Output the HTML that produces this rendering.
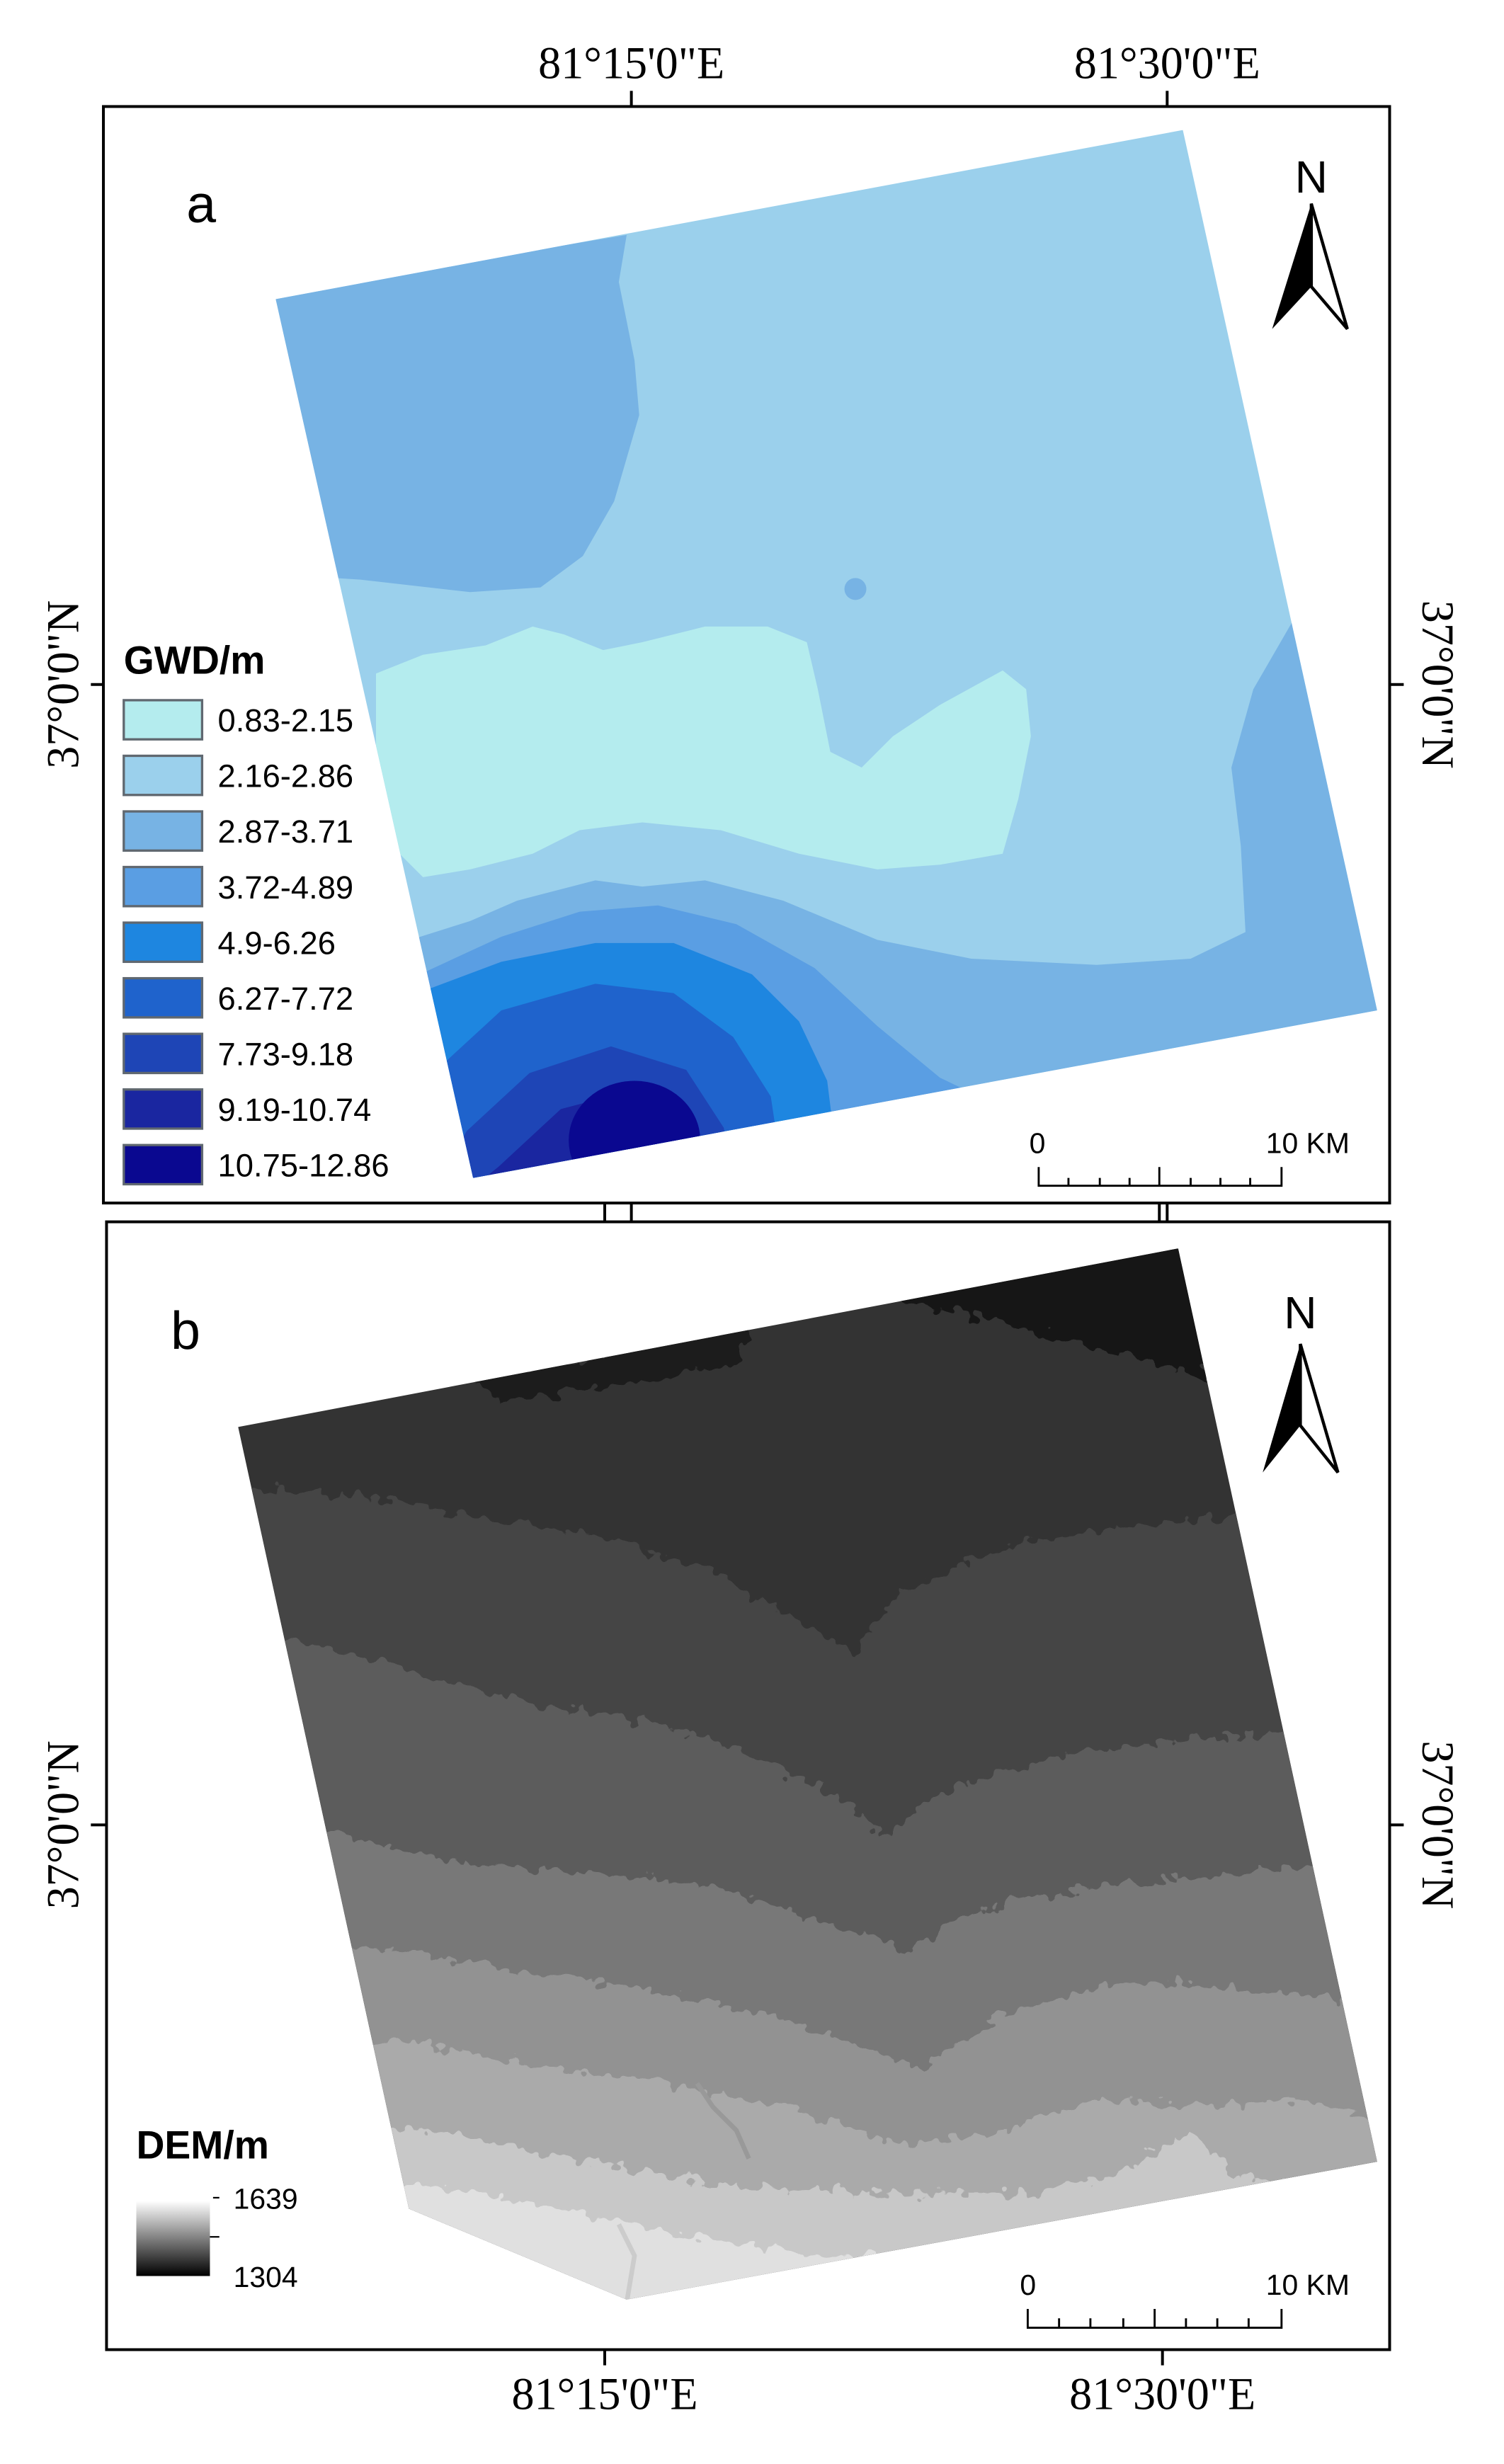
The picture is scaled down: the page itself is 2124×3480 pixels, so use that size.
<!DOCTYPE html>
<html><head><meta charset="utf-8"><style>
html,body{margin:0;padding:0;background:#fff;}
svg{display:block;}
</style></head><body>
<svg width="2124" height="3480" viewBox="0 0 960 1573" preserveAspectRatio="none" xmlns="http://www.w3.org/2000/svg">
<defs>
<clipPath id="ca"><polygon points="176,191 755,83 879,645 302,752"/></clipPath>
<clipPath id="cb"><polygon points="152,911 752,797 879,1380 400,1468 261,1410"/></clipPath>
<filter id="rough" x="-10%" y="-10%" width="120%" height="120%">
<feTurbulence type="fractalNoise" baseFrequency="0.12" numOctaves="2" seed="3"/>
<feDisplacementMap in="SourceGraphic" scale="16" xChannelSelector="R" yChannelSelector="G"/>
</filter>
<linearGradient id="dg" x1="0" y1="0" x2="0" y2="1">
<stop offset="0" stop-color="#ffffff"/><stop offset="1" stop-color="#000000"/>
</linearGradient>
</defs>
<g font-family="Liberation Serif, serif" font-size="29" fill="#000">
<text x="403" y="50" text-anchor="middle">81°15'0"E</text>
<text x="745" y="50" text-anchor="middle">81°30'0"E</text>
<text x="386" y="1538" text-anchor="middle">81°15'0"E</text>
<text x="742" y="1538" text-anchor="middle">81°30'0"E</text>
<text transform="translate(50,437) rotate(-90)" text-anchor="middle">37°0'0"N</text>
<text transform="translate(908,437) rotate(90)" text-anchor="middle">37°0'0"N</text>
<text transform="translate(50,1165) rotate(-90)" text-anchor="middle">37°0'0"N</text>
<text transform="translate(908,1165) rotate(90)" text-anchor="middle">37°0'0"N</text>
</g>
<g stroke="#000" stroke-width="1.8" fill="none">
<rect x="66" y="68" width="821" height="700"/>
<rect x="68" y="780" width="819" height="720"/>
<line x1="403" y1="58" x2="403" y2="68"/><line x1="745" y1="58" x2="745" y2="68"/>
<line x1="58" y1="437" x2="66" y2="437"/><line x1="887" y1="437" x2="896" y2="437"/>
<line x1="58" y1="1165" x2="68" y2="1165"/><line x1="887" y1="1165" x2="896" y2="1165"/>
<line x1="386" y1="1500" x2="386" y2="1510"/><line x1="742" y1="1500" x2="742" y2="1510"/>
<line x1="386" y1="768" x2="386" y2="780"/><line x1="403" y1="768" x2="403" y2="780"/>
<line x1="740" y1="768" x2="740" y2="780"/><line x1="745" y1="768" x2="745" y2="780"/>
</g>
<!-- Panel a map -->
<g clip-path="url(#ca)">
<rect x="150" y="60" width="760" height="720" fill="#9bd0ec"/>
<polygon fill="#77b3e4" points="150,191 400,150 395,180 405,230 408,265 392,320 372,355 345,375 300,378 230,370 150,365"/>
<polygon fill="#77b3e4" points="826,395 910,395 910,800 250,800 262,600 300,588 330,575 380,562 410,566 450,562 500,575 560,600 620,612 700,616 760,612 795,595 792,540 786,490 800,440"/>
<polygon fill="#b4ecee" points="240,430 270,418 310,412 340,400 360,405 385,415 410,410 450,400 490,400 515,410 522,440 530,480 550,490 570,470 600,450 640,428 655,440 658,470 650,510 640,545 600,552 560,555 510,545 460,530 410,525 370,530 340,545 300,555 270,560 250,540 240,500"/>
<polygon fill="#5a9ee3" points="250,800 268,622 320,598 370,582 420,578 470,590 520,618 560,655 600,688 625,700 700,800"/>
<polygon fill="#1e86e0" points="250,800 272,632 320,614 380,602 430,602 480,622 510,652 528,690 533,730 540,800"/>
<polygon fill="#1f63cc" points="250,800 282,680 320,645 380,628 430,634 468,662 492,700 498,740 500,800"/>
<polygon fill="#1e45b6" points="250,800 298,722 338,685 390,668 438,683 462,720 468,760 470,800"/>
<polygon fill="#1a26a0" points="250,800 318,745 358,708 400,697 432,712 446,745 450,800"/>
<ellipse cx="405" cy="728" rx="42" ry="38" fill="#0a0890"/>
<circle cx="546" cy="376" r="7" fill="#77b3e4"/>
</g>
<text x="119" y="142" font-family="Liberation Sans, sans-serif" font-size="34">a</text>
<!-- north arrow a -->
<text x="837" y="123" font-family="Liberation Sans, sans-serif" font-size="29" text-anchor="middle">N</text>
<polygon points="837,130 812,210 837,183" fill="#000"/>
<polygon points="837,130 860,210 837,183" fill="#fff" stroke="#000" stroke-width="2"/>
<!-- legend a -->
<text x="79" y="430" font-family="Liberation Sans, sans-serif" font-size="25" font-weight="bold">GWD/m</text>
<g stroke="#606870" stroke-width="1.5" font-family="Liberation Sans, sans-serif" font-size="20.5">
<rect x="79" y="447" width="50" height="25" fill="#b4ecee"/>
<rect x="79" y="482.5" width="50" height="25" fill="#9bd0ec"/>
<rect x="79" y="518" width="50" height="25" fill="#77b3e4"/>
<rect x="79" y="553.5" width="50" height="25" fill="#5a9ee3"/>
<rect x="79" y="589" width="50" height="25" fill="#1e86e0"/>
<rect x="79" y="624.5" width="50" height="25" fill="#1f63cc"/>
<rect x="79" y="660" width="50" height="25" fill="#1e45b6"/>
<rect x="79" y="695.5" width="50" height="25" fill="#1a26a0"/>
<rect x="79" y="731" width="50" height="25" fill="#0a0890"/>
<g stroke="none" fill="#000">
<text x="139" y="467">0.83-2.15</text>
<text x="139" y="502.5">2.16-2.86</text>
<text x="139" y="538">2.87-3.71</text>
<text x="139" y="573.5">3.72-4.89</text>
<text x="139" y="609">4.9-6.26</text>
<text x="139" y="644.5">6.27-7.72</text>
<text x="139" y="680">7.73-9.18</text>
<text x="139" y="715.5">9.19-10.74</text>
<text x="139" y="751">10.75-12.86</text>
</g></g>
<!-- scale -->
<g font-family="Liberation Sans, sans-serif" font-size="18.5">
<text x="657" y="736">0</text><text x="808" y="736">10 KM</text>
<text x="651" y="1465">0</text><text x="808" y="1465">10 KM</text>
</g>
<g stroke="#000" stroke-width="1.3" fill="none">
<path d="M663,745V757H818V745 M682,752V757 M702,752V757 M721,752V757 M740,745V757 M760,752V757 M779,752V757 M798,752V757"/>
<path d="M656,1474V1486H818V1474 M676,1480V1486 M696,1480V1486 M717,1480V1486 M737,1474V1486 M757,1480V1486 M777,1480V1486 M797,1480V1486"/>
</g>
<!-- Panel b map -->
<g clip-path="url(#cb)">
<rect x="140" y="780" width="760" height="720" fill="#333333"/>
<polygon filter="url(#rough)" fill="#161616" points="560,790 760,790 770,880 740,870 700,860 660,850 620,840 580,830 560,820"/>
<polygon filter="url(#rough)" fill="#1c1c1c" points="300,880 480,845 470,870 420,880 360,890 320,895"/>
<polygon filter="url(#rough)" fill="#444444" points="140,950 230,955 300,968 380,980 450,1000 510,1035 545,1055 575,1015 650,985 720,975 800,965 900,950 900,1600 140,1600"/>
<polygon filter="url(#rough)" fill="#5c5c5c" points="140,1040 200,1050 280,1072 350,1090 420,1100 480,1120 540,1150 565,1172 600,1145 680,1120 760,1110 900,1100 900,1600 140,1600"/>
<polygon filter="url(#rough)" fill="#787878" points="140,1160 230,1175 300,1190 380,1195 460,1205 520,1225 580,1245 620,1220 700,1205 800,1195 900,1185 900,1600 140,1600"/>
<polygon filter="url(#rough)" fill="#929292" points="140,1235 250,1245 330,1258 420,1272 500,1290 560,1310 590,1320 640,1285 720,1265 800,1270 900,1280 900,1600 140,1600"/>
<polygon filter="url(#rough)" fill="#aaaaaa" points="140,1300 270,1305 340,1320 420,1330 500,1345 580,1370 640,1360 700,1340 760,1345 830,1340 900,1360 900,1600 140,1600"/>
<polygon filter="url(#rough)" fill="#c8c8c8" points="140,1355 280,1360 360,1378 460,1395 560,1400 660,1400 720,1385 760,1360 790,1390 900,1400 900,1600 140,1600"/>
<polygon filter="url(#rough)" fill="#e0e0e0" points="140,1390 300,1398 400,1420 520,1440 640,1440 900,1420 900,1600 140,1600"/>
<path d="M445,1330 L455,1345 L470,1360 L478,1378" stroke="#999" stroke-width="3" fill="none"/>
<path d="M395,1420 L405,1440 L400,1470" stroke="#ccc" stroke-width="3" fill="none"/>
</g>
<text x="109" y="861" font-family="Liberation Sans, sans-serif" font-size="34">b</text>
<!-- north arrow b -->
<text x="830" y="848" font-family="Liberation Sans, sans-serif" font-size="29" text-anchor="middle">N</text>
<polygon points="830,858 806,940 830,910" fill="#000"/>
<polygon points="830,858 854,940 830,910" fill="#fff" stroke="#000" stroke-width="2"/>
<!-- legend b -->
<text x="87" y="1378" font-family="Liberation Sans, sans-serif" font-size="25" font-weight="bold">DEM/m</text>
<rect x="87" y="1405" width="47" height="48" fill="url(#dg)"/>
<g stroke="#000" stroke-width="1"><line x1="136" y1="1403" x2="140" y2="1403"/><line x1="134" y1="1428" x2="140" y2="1428"/></g>
<g font-family="Liberation Sans, sans-serif" font-size="18.5">
<text x="149" y="1410">1639</text><text x="149" y="1460">1304</text>
</g>
</svg>
</body></html>
